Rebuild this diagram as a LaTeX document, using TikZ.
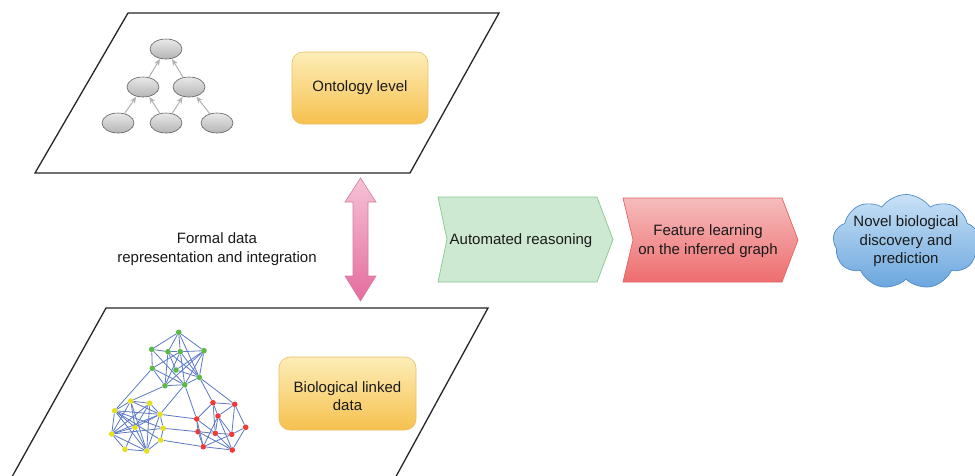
\documentclass[tikz,border=0pt]{standalone}
\usepackage{fontspec}
\setmainfont{Liberation Sans}
\usetikzlibrary{shapes.geometric,shapes.symbols,arrows.meta}
\definecolor{ytop}{HTML}{FDEDB8}
\definecolor{ybot}{HTML}{F6C14E}
\definecolor{yline}{HTML}{E9BF68}
\definecolor{gfill}{HTML}{CDE9D1}
\definecolor{gline}{HTML}{86C98A}
\definecolor{rtop}{HTML}{F6BCBC}
\definecolor{rbot}{HTML}{EE6D6F}
\definecolor{rline}{HTML}{E26567}
\definecolor{ctop}{HTML}{C9E1F6}
\definecolor{cbot}{HTML}{6AA6DD}
\definecolor{cline}{HTML}{4F8BC9}
\definecolor{ptop}{HTML}{F5C2D5}
\definecolor{pbot}{HTML}{E56C9E}
\definecolor{pline}{HTML}{D97AA2}
\definecolor{edgec}{HTML}{5B79C4}
\definecolor{vgreen}{HTML}{5DB84A}
\definecolor{vyellow}{HTML}{E6E020}
\definecolor{vred}{HTML}{EE3A3A}
\definecolor{txt}{HTML}{1A1A1A}
\begin{document}
\begin{tikzpicture}[x=1pt,y=-1pt,
  lbl/.style={font=\fontsize{15}{18.5}\selectfont, text=txt, align=center, inner sep=0},
  plane/.style={draw=black!85, line width=1.3pt, fill=white},
  ybox/.style={draw=yline, line width=0.6pt, rounded corners=11pt, top color=ytop, bottom color=ybot},
  ell/.style={ellipse, draw=gray!75!black, line width=0.6pt, top color=gray!18, bottom color=gray!58, minimum width=32pt, minimum height=20pt, inner sep=0},
  tarr/.style={draw=gray!60, line width=1pt, -{Stealth[length=6.5pt,width=5.5pt]}, shorten >=0.5pt},
  vtx/.style={circle, inner sep=0, minimum size=5.6pt},
  vg/.style={vtx, fill=vgreen},
  vy/.style={vtx, fill=vyellow},
  vr/.style={vtx, fill=vred},
  gedge/.style={draw=edgec, line width=0.8pt},
  chev/.style={line width=0.7pt, line join=miter}
]
\useasboundingbox (0,0) rectangle (975,475);
\clip (0,0) rectangle (975,475);
\fill[white] (0,0) rectangle (975,475);

% ---------- top plane ----------
\draw[plane] (128,13) -- (499,13) -- (410,173) -- (35,173) -- cycle;
\draw[ybox] (292,52) rectangle (428,124);
\node[lbl] (onto) at (360,88) {Ontology level};

\node[ell] (t0) at (166,49) {};
\node[ell] (t1) at (143,87) {};
\node[ell] (t2) at (189,87) {};
\node[ell] (t3) at (118,123) {};
\node[ell] (t4) at (166,123) {};
\node[ell] (t5) at (217,123) {};
\draw[tarr] (t1) -- (t0);
\draw[tarr] (t2) -- (t0);
\draw[tarr] (t3) -- (t1);
\draw[tarr] (t4) -- (t1);
\draw[tarr] (t4) -- (t2);
\draw[tarr] (t5) -- (t2);

% ---------- bottom plane ----------
\draw[plane] (106,308) -- (488,308) -- (387,493) -- (3,493) -- cycle;
\draw[ybox] (279,357) rectangle (416,430);
\node[lbl] (bio) at (347.5,396) {Biological linked\\data};

% graph vertices
\node[vg] (g1) at (178.7,332.3) {};
\node[vg] (g2) at (151.7,349.3) {};
\node[vg] (g3) at (168,351.7) {};
\node[vg] (g4) at (180.3,351.7) {};
\node[vg] (g5) at (204,350.7) {};
\node[vg] (g6) at (152.3,368.3) {};
\node[vg] (g7) at (176,370) {};
\node[vg] (g8) at (199.3,377.3) {};
\node[vg] (g9) at (165,385.7) {};
\node[vg] (g10) at (184.7,384.7) {};
\node[vy] (y1) at (130.7,401) {};
\node[vy] (y2) at (149.7,403.3) {};
\node[vy] (y3) at (114.7,410.7) {};
\node[vy] (y4) at (160,414.3) {};
\node[vy] (y5) at (135,427.3) {};
\node[vy] (y6) at (163.3,428.3) {};
\node[vy] (y7) at (111.7,434) {};
\node[vy] (y8) at (160.7,440) {};
\node[vy] (y9) at (125,449.3) {};
\node[vy] (y10) at (146.7,451) {};
\node[vr] (r1) at (213,402.7) {};
\node[vr] (r2) at (234.7,404.3) {};
\node[vr] (r3) at (218,416) {};
\node[vr] (r4) at (196.7,419) {};
\node[vr] (r5) at (245.7,427.3) {};
\node[vr] (r6) at (198,431.7) {};
\node[vr] (r7) at (215.3,433.3) {};
\node[vr] (r8) at (231.7,434.3) {};
\node[vr] (r9) at (203.3,446.7) {};
\node[vr] (r10) at (232.3,450) {};
\foreach \a/\b in {g1/g2,g1/g5,g1/g4,g1/g8,g1/g3,g2/g3,g3/g4,g4/g5,g2/g6,g6/g9,g9/g10,g10/g8,g8/g5,
  g3/g9,g4/g9,g4/g10,g4/g8,g5/g7,g5/g9,g5/g10,g6/g10,g6/g4,g7/g3,g7/g8,g2/g10,g3/g8,
  g9/y1,g6/y3,g10/y4,g8/r1,g8/r2,g10/r4,
  y4/r4,y6/r6,y8/r9,
  y1/y2,y1/y3,y2/y4,y3/y7,y7/y9,y9/y10,y10/y8,y8/y6,y6/y4,y3/y5,y3/y4,y3/y6,y3/y10,y3/y8,
  y7/y1,y7/y2,y7/y5,y7/y4,y7/y10,y7/y6,y1/y5,y1/y10,y2/y5,y2/y10,y5/y4,y5/y10,y5/y9,y4/y10,y1/y4,
  r1/r2,r1/r4,r1/r3,r2/r5,r2/r3,r5/r10,r10/r9,r9/r6,r6/r4,r3/r7,r3/r8,r3/r9,r4/r7,r4/r9,
  r7/r8,r8/r5,r7/r10,r6/r10,r1/r7,r2/r8,r9/r8,r3/r10,r6/r7}
  \draw[gedge] (\a) -- (\b);

% ---------- double arrow ----------
\draw[draw=pline, line width=0.6pt, top color=ptop, bottom color=pbot]
  (360.5,178) -- (376,202) -- (368,202) -- (368,276) -- (376,276) -- (360.5,301)
  -- (345,276) -- (353,276) -- (353,202) -- (345,202) -- cycle;
\node[lbl] (formal) at (217,249) {Formal data\\representation and integration};

% ---------- chevrons ----------
\draw[chev, draw=gline, fill=gfill]
  (438,197) -- (597,197) -- (613,239.5) -- (597,282) -- (438,282) -- (447,239.5) -- cycle;
\node[lbl] (auto) at (521,241) {Automated reasoning};

\draw[chev, draw=rline, top color=rtop, bottom color=rbot]
  (623,198) -- (782,198) -- (798,240) -- (782,282) -- (623,282) -- (633,240) -- cycle;
\node[lbl] (feat) at (708,241) {Feature learning\\on the inferred graph};

% ---------- cloud ----------
\node[cloud, cloud puffs=9, cloud puff arc=110, aspect=1.6, draw=cline, line width=0.7pt,
  top color=ctop, bottom color=cbot, minimum width=146pt, minimum height=95pt, inner sep=0] (cloudshape) at (906,242) {};
\node[lbl] (novel) at (906,241.5) {Novel biological\\discovery and\\prediction};
\end{tikzpicture}
\end{document}
